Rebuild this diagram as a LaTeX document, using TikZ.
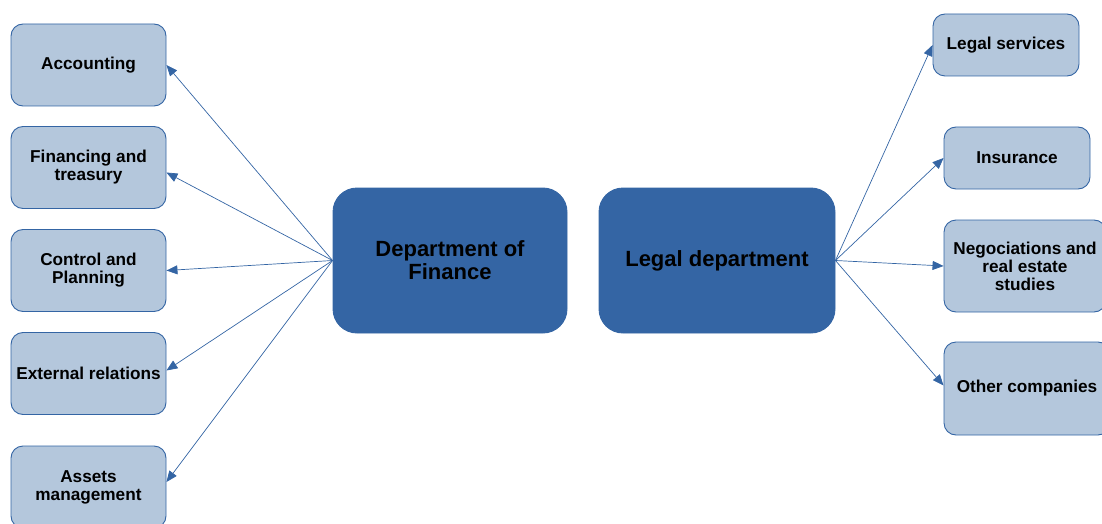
\documentclass[tikz,border=0pt]{standalone}
\usepackage{fontspec}
\setmainfont{Liberation Sans}
\usetikzlibrary{arrows.meta}
\definecolor{lb}{HTML}{B4C7DC}
\definecolor{db}{HTML}{3465A4}
\begin{document}
\begin{tikzpicture}[x=1pt,y=1pt,
  subbox/.style={draw=db, fill=lb, line width=0.9pt, rounded corners=12pt, inner sep=0pt,
    align=center, font=\fontsize{17.2}{18}\selectfont\bfseries},
  mainbox/.style={draw=db, fill=db, line width=0.9pt, rounded corners=24pt, inner sep=0pt,
    align=center, font=\fontsize{22}{23}\selectfont\bfseries},
  conn/.style={draw=db, line width=0.7pt, -{Triangle[length=11pt,width=9pt]}}]
\useasboundingbox (0,0) rectangle (1102,523);
% left
\node[subbox, minimum width=155, minimum height=82] (acc) at (88.5,458) {Accounting};
\node[subbox, minimum width=155, minimum height=82] (fin) at (88.5,355.5) {Financing and\\treasury};
\node[subbox, minimum width=155, minimum height=82] (ctl) at (88.5,252.5) {Control and\\Planning};
\node[subbox, minimum width=155, minimum height=82] (ext) at (88.5,149.5) {External relations};
\node[subbox, minimum width=155, minimum height=82] (ast) at (88.5,36) {Assets\\management};
% centre
\node[mainbox, minimum width=234, minimum height=145] (dof) at (450,262.5) {Department of\\Finance};
\node[mainbox, minimum width=236, minimum height=145] (leg) at (717,262.5) {Legal department};
% right
\node[subbox, minimum width=146, minimum height=62] (lsv) at (1006,478) {Legal services};
\node[subbox, minimum width=146, minimum height=62] (ins) at (1017,365) {Insurance};
\node[subbox, minimum width=162, minimum height=92] (neg) at (1025,257) {Negociations and\\real estate\\studies};
\node[subbox, minimum width=166, minimum height=93] (oth) at (1027,134.5) {Other companies};
% connectors
\draw[conn] (dof.west) -- (acc.east);
\draw[conn] (dof.west) -- ([yshift=-5]fin.east);
\draw[conn] (dof.west) -- (ctl.east);
\draw[conn] (dof.west) -- ([yshift=3]ext.east);
\draw[conn] (dof.west) -- ([yshift=5]ast.east);
\draw[conn] (leg.east) -- (lsv.west);
\draw[conn] (leg.east) -- (ins.west);
\draw[conn] (leg.east) -- (neg.west);
\draw[conn] (leg.east) -- ([yshift=3]oth.west);
\end{tikzpicture}
\end{document}
